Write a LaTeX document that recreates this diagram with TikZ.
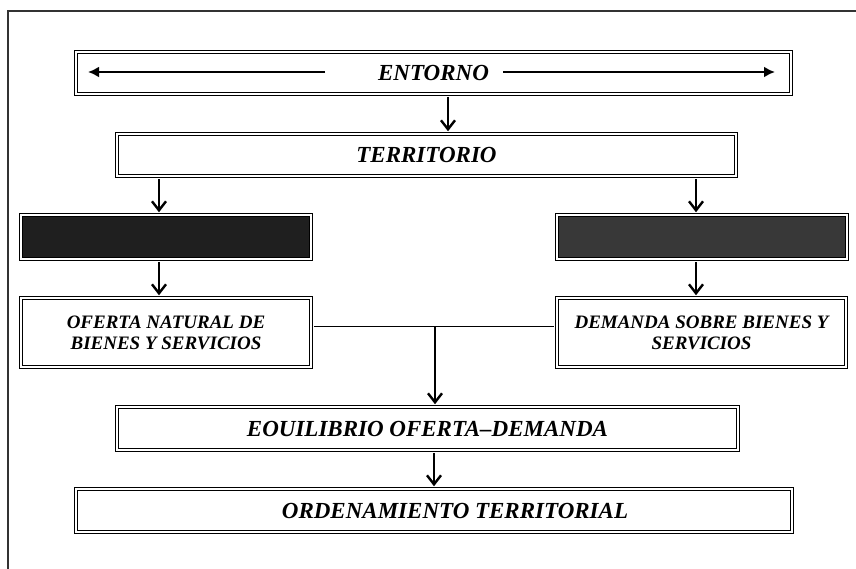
\documentclass[tikz,border=0pt]{standalone}
\usepackage{fontspec}
\setmainfont{Liberation Serif}
\usetikzlibrary{arrows.meta}
\tikzset{
  dblbox/.style={draw, double, line width=1.5pt, double distance=1.2pt,
    inner sep=0pt, align=center, font=\fontsize{23}{26}\selectfont\bfseries\itshape},
  twoline/.style={font=\fontsize{19}{21}\selectfont\bfseries\itshape},
  flow/.style={line width=2.4pt, shorten >=2pt, shorten <=2pt,
    -{Straight Barb[length=9pt,width=14pt]}},
  wide/.style={line width=2.2pt, -{Latex[length=11pt,width=11pt]}},
}
\begin{document}
\begin{tikzpicture}[x=1pt,y=-1pt]
  \useasboundingbox (0,0) rectangle (856,568);
  \clip (0,0) rectangle (856,568);
  \draw[line width=1.8pt, black!80] (8,11) rectangle (900,600);
  \draw
    (433.5,73) node[dblbox, minimum width=715pt, minimum height=42pt] (ent) {ENTORNO}
    (426.5,155) node[dblbox, minimum width=619pt, minimum height=42pt] (ter) {TERRITORIO}
    (166,237) node[dblbox, fill=black!88, minimum width=290pt, minimum height=44pt] (blkL) {}
    (702,237) node[dblbox, fill=black!78, minimum width=290pt, minimum height=44pt] (blkR) {}
    (166,332.5) node[dblbox, twoline, minimum width=290pt, minimum height=69pt] (ofe) {OFERTA NATURAL DE\\BIENES Y SERVICIOS}
    (701.5,332.5) node[dblbox, twoline, minimum width=289pt, minimum height=69pt] (dem) {DEMANDA SOBRE BIENES Y\\SERVICIOS}
    (427.5,428.5) node[dblbox, minimum width=621pt, minimum height=43pt] (equ) {EOUILIBRIO OFERTA--DEMANDA}
    (434,510.5) node[dblbox, minimum width=716pt, minimum height=43pt] (ord) {};
  \node[font=\fontsize{23}{26}\selectfont\bfseries\itshape] (ordtxt) at ([xshift=21pt]ord.center) {ORDENAMIENTO TERRITORIAL};
  \coordinate (entL1) at (325,72);
  \coordinate (entL2) at (88,72);
  \coordinate (entR1) at (503,72);
  \coordinate (entR2) at (775,72);
  \coordinate (a1) at ([xshift=14.5pt]ent.south);
  \coordinate (a2) at ([xshift=-7pt]blkL.north);
  \coordinate (a3) at ([xshift=-6pt]blkR.north);
  \coordinate (jn) at (435,326);
  \begin{scope}[wide]
    \draw (entL1) to (entL2);
    \draw (entR1) to (entR2);
  \end{scope}
  \begin{scope}[flow]
    \draw (a1) to (a1 |- ter.north);
    \draw (a2 |- ter.south) to (a2);
    \draw (a3 |- ter.south) to (a3);
    \draw (blkL.south -| a2) to (ofe.north -| a2);
    \draw (blkR.south -| a3) to (dem.north -| a3);
    \draw[shorten <=0pt] (jn) to (jn |- equ.north);
    \draw (ord.north |- equ.south) to (ord.north);
  \end{scope}
  \draw[line width=0.9pt] ([shift={(2pt,6.5pt)}]ofe.east) to ([shift={(-2pt,6.5pt)}]dem.west);
\end{tikzpicture}
\end{document}
